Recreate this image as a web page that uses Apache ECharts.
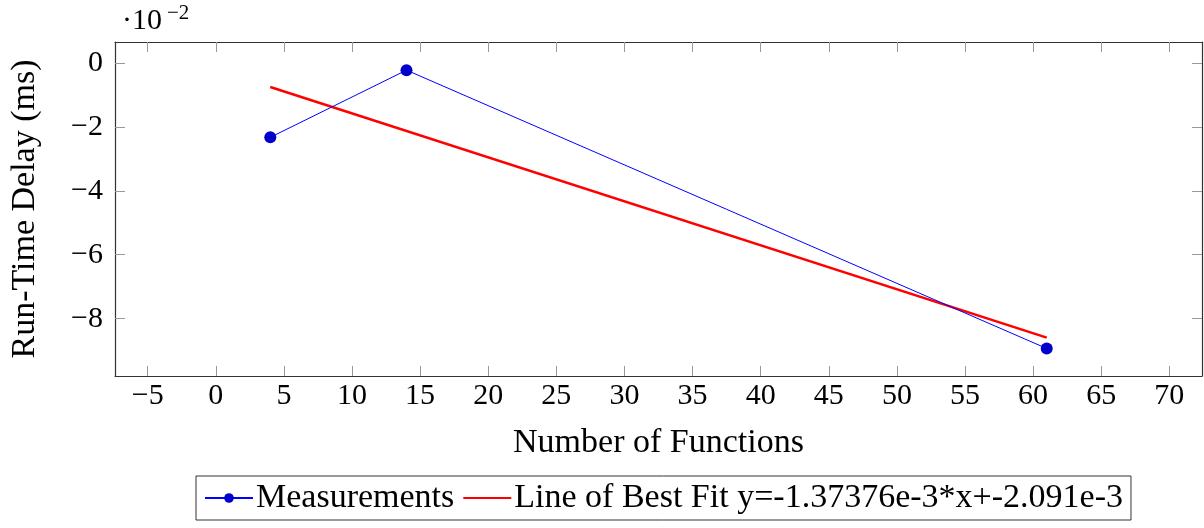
<!DOCTYPE html>
<html>
<head>
<meta charset="utf-8">
<title>Run-Time Delay vs Number of Functions</title>
<script src="https://cdn.jsdelivr.net/npm/echarts@6/dist/echarts.min.js"></script>
<style>
  html, body { margin: 0; padding: 0; background: #fff; }
  #chart { width: 1204px; height: 528px; }
</style>
</head>
<body>
<div id="chart"></div>
<script>
// Measured run-time delay, in units of 1e-2 ms
const functionCounts = [4, 14, 61];
const delayValues = [-2.33, -0.23, -8.93];

// Endpoints of the fitted line y = -1.37376e-3*x + -2.091e-3 (units of 1e-2 ms)
const fitX = [4, 61];
const fitY = [-0.758, -8.589];

const xTicks = [-5, 0, 5, 10, 15, 20, 25, 30, 35, 40, 45, 50, 55, 60, 65, 70];
const yTicks = [-8, -6, -4, -2, 0];

const measurementName = 'Measurements';
const fitName = 'Line of Best Fit y=-1.37376e-3*x+-2.091e-3';

const FONT = '"Liberation Serif", "Times New Roman", serif';
const xRange = { min: -7.4, max: 72.4 };
const yRange = { min: -9.79, max: 0.65 };

const fmt = v => (v < 0 ? '\u2212' + Math.abs(v) : String(v));

const tickStyle = { show: true, inside: true, length: 10, lineStyle: { color: '#999', width: 1 } };
const lineStyle = { show: true, lineStyle: { color: '#333', width: 1.2 } };

const chart = echarts.init(document.getElementById('chart'), null, { renderer: 'canvas' });

chart.setOption({
  animation: false,
  backgroundColor: '#fff',
  grid: { left: 113, right: 2, top: 42, bottom: 152 },
  xAxis: [
    {
      type: 'value', position: 'bottom', ...xRange,
      axisLine: { ...lineStyle, onZero: false },
      axisTick: { ...tickStyle, customValues: xTicks },
      axisLabel: { customValues: xTicks, formatter: fmt, color: '#000', fontFamily: FONT, fontSize: 30, margin: 5 },
      splitLine: { show: false },
      name: 'Number of Functions', nameLocation: 'middle', nameGap: 50,
      nameTextStyle: { color: '#000', fontFamily: FONT, fontSize: 34 }
    },
    {
      type: 'value', position: 'top', ...xRange,
      axisLine: { ...lineStyle, onZero: false },
      axisTick: { ...tickStyle, customValues: xTicks },
      axisLabel: { show: false },
      splitLine: { show: false }
    }
  ],
  yAxis: [
    {
      type: 'value', position: 'left', ...yRange,
      axisLine: { ...lineStyle, onZero: false },
      axisTick: { ...tickStyle, customValues: yTicks },
      axisLabel: { customValues: yTicks, formatter: fmt, color: '#000', fontFamily: FONT, fontSize: 30, margin: 12 },
      splitLine: { show: false },
      name: 'Run-Time Delay (ms)', nameLocation: 'middle', nameGap: 73, nameRotate: 90,
      nameTextStyle: { color: '#000', fontFamily: FONT, fontSize: 34 }
    },
    {
      type: 'value', position: 'right', ...yRange,
      axisLine: { ...lineStyle, onZero: false },
      axisTick: { ...tickStyle, customValues: yTicks },
      axisLabel: { show: false },
      splitLine: { show: false }
    }
  ],
  legend: {
    left: 196, top: 476,
    padding: [5, 8, 5, 8],
    borderColor: '#333', borderWidth: 1,
    itemWidth: 48, itemHeight: 12, itemGap: 8,
    textStyle: { color: '#000', fontFamily: FONT, fontSize: 34, padding: [0, 0, 0, -2] },
    data: [
      measurementName,
      { name: fitName, itemStyle: { opacity: 0 } }
    ]
  },
  graphic: [
    {
      type: 'text', left: 122, top: 6,
      style: { text: '\u00b710', font: '30px ' + FONT, fill: '#000' }
    },
    {
      type: 'text', left: 167, top: 3,
      style: { text: '\u22122', font: '21px ' + FONT, fill: '#000' }
    }
  ],
  series: [
    {
      name: measurementName, type: 'line',
      data: functionCounts.map((x, i) => [x, delayValues[i]]),
      color: '#0000ff',
      lineStyle: { color: '#0000ff', width: 1 },
      itemStyle: { color: '#0000cc' },
      symbol: 'circle', symbolSize: 12, showSymbol: true,
      z: 3
    },
    {
      name: fitName, type: 'line',
      data: fitX.map((x, i) => [x, fitY[i]]),
      color: '#ff0000',
      lineStyle: { color: '#ff0000', width: 2.5 },
      symbol: 'none',
      z: 2
    }
  ]
});
</script>
</body>
</html>
